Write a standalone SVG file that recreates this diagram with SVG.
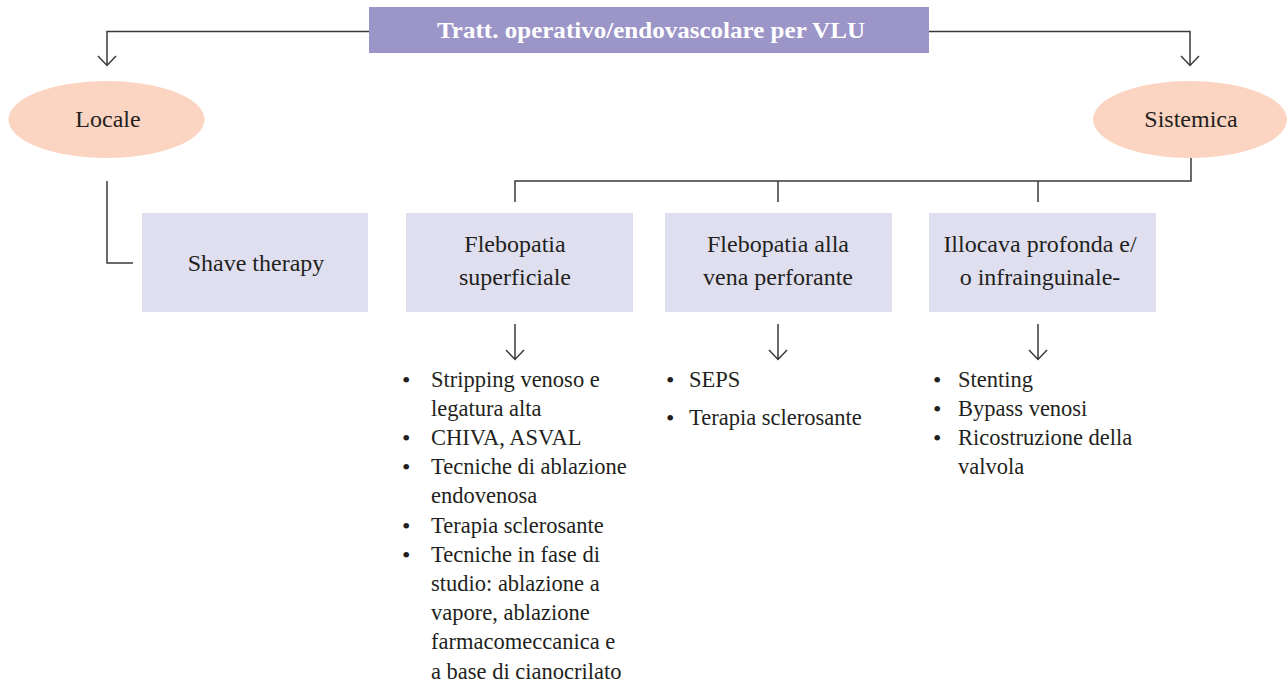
<svg xmlns="http://www.w3.org/2000/svg" width="1287" height="686" viewBox="0 0 1287 686">
<style>
.t{font-family:"Liberation Serif",serif;fill:#231f20;font-size:24px}
.l{font-family:"Liberation Serif",serif;fill:#231f20;font-size:22.5px}
.b{font-family:"Liberation Serif",serif;fill:#231f20;font-size:24px}
.box{fill:#e0dff0}
.ell{fill:#fbd4c2}
.c{fill:none;stroke:#3a3a3a;stroke-width:1.5}
</style>
<rect width="1287" height="686" fill="#fff"/>
<g id="connectors">
<path class="c" d="M369,31.5 H107 V65"/>
<path class="c" d="M98,56 L107,65.5 L116,56"/>
<path class="c" d="M929,31.5 H1190 V65"/>
<path class="c" d="M1181,56 L1190,65.5 L1199,56"/>
<path class="c" d="M107,181 V263 H133"/>
<path class="c" d="M1191,158 V181 H515 V202 M778,181 V202 M1038,181 V202"/>
<path class="c" d="M515,324 V359 M506,350 L515,359.5 L524,350"/>
<path class="c" d="M778,324 V359 M769,350 L778,359.5 L787,350"/>
<path class="c" d="M1038,324 V359 M1029,350 L1038,359.5 L1047,350"/>
</g>
<g id="title">
<rect x="369" y="7" width="560" height="46" fill="#9c95c8"/>
<text x="651" y="38" text-anchor="middle" textLength="428" lengthAdjust="spacingAndGlyphs" style="font-family:'Liberation Serif',serif;font-weight:bold;font-size:23px;fill:#fff">Tratt. operativo/endovascolare per VLU</text>
</g>
<g id="locale">
<ellipse class="ell" cx="106.5" cy="119.5" rx="98" ry="38.5"/>
<text class="t" x="108" y="127" text-anchor="middle">Locale</text>
</g>
<g id="sistemica">
<ellipse class="ell" cx="1190" cy="119.5" rx="97" ry="38.5"/>
<text class="t" x="1191" y="127" text-anchor="middle">Sistemica</text>
</g>
<g id="shave">
<rect class="box" x="142" y="213" width="226" height="99"/>
<text class="t" x="256" y="271" text-anchor="middle">Shave therapy</text>
</g>
<g id="superficiale">
<rect class="box" x="406" y="213" width="227" height="99"/>
<text class="t" x="515" y="252" text-anchor="middle">Flebopatia</text>
<text class="t" x="515" y="285" text-anchor="middle">superficiale</text>
</g>
<g id="perforante">
<rect class="box" x="665" y="213" width="227" height="99"/>
<text class="t" x="778" y="252" text-anchor="middle">Flebopatia alla</text>
<text class="t" x="778" y="285" text-anchor="middle">vena perforante</text>
</g>
<g id="illocava">
<rect class="box" x="929" y="213" width="227" height="99"/>
<text class="t" x="1040" y="252" text-anchor="middle">Illocava profonda e/</text>
<text class="t" x="1040" y="285" text-anchor="middle">o infrainguinale-</text>
</g>
<g id="list-superficiale">
<text class="b" x="402" y="388">•</text><text class="l" x="431" y="387">Stripping venoso e</text>
<text class="l" x="431" y="416">legatura alta</text>
<text class="b" x="402" y="446">•</text><text class="l" x="431" y="445">CHIVA, ASVAL</text>
<text class="b" x="402" y="475">•</text><text class="l" x="431" y="474">Tecniche di ablazione</text>
<text class="l" x="431" y="503">endovenosa</text>
<text class="b" x="402" y="534">•</text><text class="l" x="431" y="533">Terapia sclerosante</text>
<text class="b" x="402" y="563">•</text><text class="l" x="431" y="562">Tecniche in fase di</text>
<text class="l" x="431" y="591">studio: ablazione a</text>
<text class="l" x="431" y="620">vapore, ablazione</text>
<text class="l" x="431" y="649">farmacomeccanica e</text>
<text class="l" x="431" y="679">a base di cianocrilato</text>
</g>
<g id="list-perforante">
<text class="b" x="666" y="388">•</text><text class="l" x="689" y="387">SEPS</text>
<text class="b" x="666" y="426">•</text><text class="l" x="689" y="425">Terapia sclerosante</text>
</g>
<g id="list-illocava">
<text class="b" x="933" y="388">•</text><text class="l" x="958" y="387">Stenting</text>
<text class="b" x="933" y="417">•</text><text class="l" x="958" y="416">Bypass venosi</text>
<text class="b" x="933" y="446">•</text><text class="l" x="958" y="445">Ricostruzione della</text>
<text class="l" x="958" y="474">valvola</text>
</g>
</svg>
